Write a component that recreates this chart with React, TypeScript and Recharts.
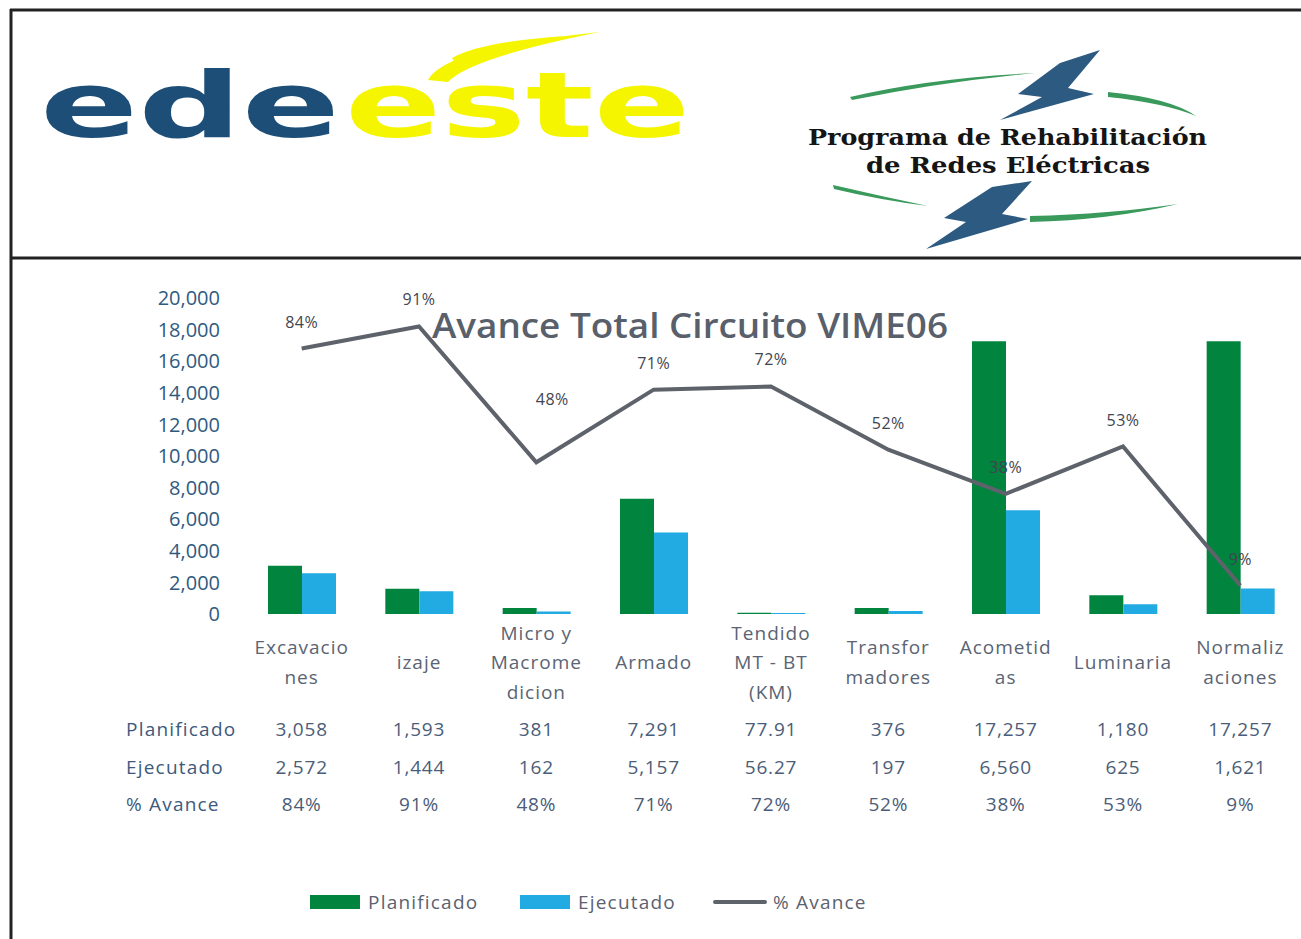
import React from "react";
import { ComposedChart, Bar, Line, XAxis, YAxis, LabelList } from "recharts";

const categories = [
  "Excavacio\nnes",
  "izaje",
  "Micro y\nMacrome\ndicion",
  "Armado",
  "Tendido\nMT - BT\n(KM)",
  "Transfor\nmadores",
  "Acometid\nas",
  "Luminaria",
  "Normaliz\naciones",
];
const planificado = [3058, 1593, 381, 7291, 77.91, 376, 17257, 1180, 17257];
const ejecutado = [2572, 1444, 162, 5157, 56.27, 197, 6560, 625, 1621];
const avance = [0.84, 0.91, 0.48, 0.71, 0.72, 0.52, 0.38, 0.53, 0.09];
const yTicks = [0, 2000, 4000, 6000, 8000, 10000, 12000, 14000, 16000, 18000, 20000];
const rowLabels = ["Planificado", "Ejecutado", "% Avance"];
const seriesNames = ["Planificado", "Ejecutado", "% Avance"];
const chartTitle = "Avance Total Circuito VIME06";

const data = categories.map((name, i) => ({
  name,
  planificado: planificado[i],
  ejecutado: ejecutado[i],
  avance: avance[i],
}));

const FONT = "'Open Sans', 'Noto Sans', sans-serif";
const GREEN = "#00843e";
const BLUE = "#22aae2";
const GRAY_LINE = "#5e636b";

const fmtNum = (v: number) => v.toLocaleString("en-US", { maximumFractionDigits: 2 });
const fmtPct = (v: number) => `${Math.round(v * 100)}%`;

const CategoryTick = (props: any) => {
  const { x, y, payload } = props;
  const i = payload.index;
  const lines = String(payload.value).split("\n");
  const lh = 29.5;
  const start = 48 - ((lines.length - 1) * lh) / 2;
  const rowVals = [fmtNum(planificado[i]), fmtNum(ejecutado[i]), fmtPct(avance[i])];
  const rowY = [115, 153, 190];
  return (
    <g>
      {lines.map((l, k) => (
        <text
          key={k}
          x={x}
          y={y + start + k * lh}
          textAnchor="middle"
          dominantBaseline="central"
          fill="#5a6474"
          fontSize={19}
          letterSpacing={1}
          fontFamily={FONT}
        >
          {l}
        </text>
      ))}
      {rowVals.map((t, k) => (
        <text
          key={"r" + k}
          x={x}
          y={y + rowY[k]}
          textAnchor="middle"
          dominantBaseline="central"
          fill="#4b5d78"
          fontSize={19}
          letterSpacing={0.8}
          fontFamily={FONT}
        >
          {t}
        </text>
      ))}
    </g>
  );
};

const labelShift: Record<number, [number, number]> = { 2: [16, -36] };

const PctLabel = (props: any) => {
  const { x, y, value, index } = props;
  const [dx, dy] = labelShift[index] || [0, 0];
  return (
    <text
      x={x + dx}
      y={y - 27 + dy}
      textAnchor="middle"
      dominantBaseline="central"
      fill="#3f4650"
      fontSize={16}
      letterSpacing={0.5}
      fontFamily={FONT}
    >
      {fmtPct(value)}
    </text>
  );
};

const Logos = () => (
  <g>
    <path d="M428 80 Q445 48 600 32 Q470 58 448 82 Z" fill="#f5f500" />
    <path d="M452 58 Q480 42 565 36 Q500 46 456 64 Z" fill="#f5f500" />
    <text
      x={40}
      y={137}
      fontFamily="'DejaVu Sans', sans-serif"
      fontWeight="bold"
      fontSize={90}
      fill="#1c4e77"
      textLength={300}
      lengthAdjust="spacingAndGlyphs"
    >
      ede
    </text>
    <text
      x={345}
      y={137}
      fontFamily="'DejaVu Sans', sans-serif"
      fontWeight="bold"
      fontSize={90}
      fill="#f5f500"
      textLength={345}
      lengthAdjust="spacingAndGlyphs"
    >
      este
    </text>
    <path d="M850 97 Q930 78 1035 73 Q940 82 852 100 Z" fill="#3a9a5c" />
    <path d="M1108 92 Q1170 98 1196 116 Q1165 103 1108 97 Z" fill="#3a9a5c" />
    <path d="M833 185 Q880 196 928 206 Q880 200 834 189 Z" fill="#3a9a5c" />
    <path d="M1030 216 Q1110 214 1178 204 Q1110 220 1030 222 Z" fill="#3a9a5c" />
    <polygon
      points="1100,50 1068,88 1094,94 1000,120 1042,97 1018,94 1060,63"
      fill="#2d5a80"
    />
    <polygon
      points="1032,181 1002,214 1028,219 926,249 966,222 944,218 992,187"
      fill="#2d5a80"
    />
    <text
      x={808}
      y={145}
      fontFamily="'DejaVu Serif', serif"
      fontWeight="bold"
      fontSize={22}
      fill="#151515"
      textLength={399}
      lengthAdjust="spacingAndGlyphs"
    >
      Programa de Rehabilitación
    </text>
    <text
      x={866}
      y={173}
      fontFamily="'DejaVu Serif', serif"
      fontWeight="bold"
      fontSize={22}
      fill="#151515"
      textLength={284}
      lengthAdjust="spacingAndGlyphs"
    >
      de Redes Eléctricas
    </text>
  </g>
);

const Overlay = () => {
  const legendColors = [GREEN, BLUE, GRAY_LINE];
  const legendX = [310, 520, 715];
  return (
    <svg
      width={1301}
      height={939}
      style={{ position: "absolute", left: 0, top: 0, pointerEvents: "none" }}
    >
      <line x1={11} y1={9} x2={11} y2={939} stroke="#222" strokeWidth={3} />
      <line x1={10} y1={10} x2={1301} y2={10} stroke="#222" strokeWidth={3} />
      <line x1={10} y1={258} x2={1301} y2={258} stroke="#222" strokeWidth={3} />
      <Logos />
      <text
        x={432}
        y={338}
        fontFamily={FONT}
        fontSize={35}
        fontWeight={600}
        fill="#595f6b"
        textLength={516}
        lengthAdjust="spacingAndGlyphs"
      >
        {chartTitle}
      </text>
      {rowLabels.map((l, k) => (
        <text
          key={l}
          x={126}
          y={[729, 767, 804][k]}
          dominantBaseline="central"
          fontFamily={FONT}
          fontSize={19}
          letterSpacing={1.2}
          fill="#3d5a7c"
        >
          {l}
        </text>
      ))}
      {seriesNames.map((n, k) => (
        <g key={n}>
          {k < 2 ? (
            <rect x={legendX[k]} y={895} width={50} height={14} fill={legendColors[k]} />
          ) : (
            <line
              x1={legendX[k]}
              y1={902}
              x2={legendX[k] + 50}
              y2={902}
              stroke={legendColors[k]}
              strokeWidth={4}
              strokeLinecap="round"
            />
          )}
          <text
            x={legendX[k] + 58}
            y={902}
            dominantBaseline="central"
            fontFamily={FONT}
            fontSize={19}
            letterSpacing={1.2}
            fill="#5b6270"
          >
            {n}
          </text>
        </g>
      ))}
    </svg>
  );
};

export default function App() {
  return (
    <div
      style={{
        position: "absolute",
        left: 0,
        top: 0,
        width: 1301,
        height: 939,
        background: "#fff",
        overflow: "hidden",
      }}
    >
      <div style={{ position: "absolute", left: 0, top: 0 }}>
        <ComposedChart
          width={1301}
          height={860}
          data={data}
          margin={{ top: 298, right: 2, left: 163, bottom: 16 }}
          barGap={0}
        >
          <XAxis
            dataKey="name"
            interval={0}
            axisLine={false}
            tickLine={false}
            tickSize={0}
            tickMargin={0}
            height={230}
            tick={<CategoryTick />}
          />
          <YAxis
            yAxisId="left"
            domain={[0, 20000]}
            ticks={yTicks}
            interval={0}
            axisLine={false}
            tickLine={false}
            width={80}
            tickMargin={17}
            tickFormatter={(v: number) => v.toLocaleString("en-US")}
            tick={{ fill: "#2f5a80", fontSize: 20, fontFamily: FONT }}
          />
          <YAxis yAxisId="pct" orientation="right" domain={[0, 1]} hide />
          <Bar
            yAxisId="left"
            dataKey="planificado"
            name={seriesNames[0]}
            fill={GREEN}
            barSize={34}
            isAnimationActive={false}
          />
          <Bar
            yAxisId="left"
            dataKey="ejecutado"
            name={seriesNames[1]}
            fill={BLUE}
            barSize={34}
            isAnimationActive={false}
          />
          <Line
            yAxisId="pct"
            dataKey="avance"
            name={seriesNames[2]}
            stroke={GRAY_LINE}
            strokeWidth={4}
            dot={false}
            activeDot={false}
            isAnimationActive={false}
          >
            <LabelList dataKey="avance" content={<PctLabel />} />
          </Line>
        </ComposedChart>
      </div>
      <Overlay />
    </div>
  );
}
